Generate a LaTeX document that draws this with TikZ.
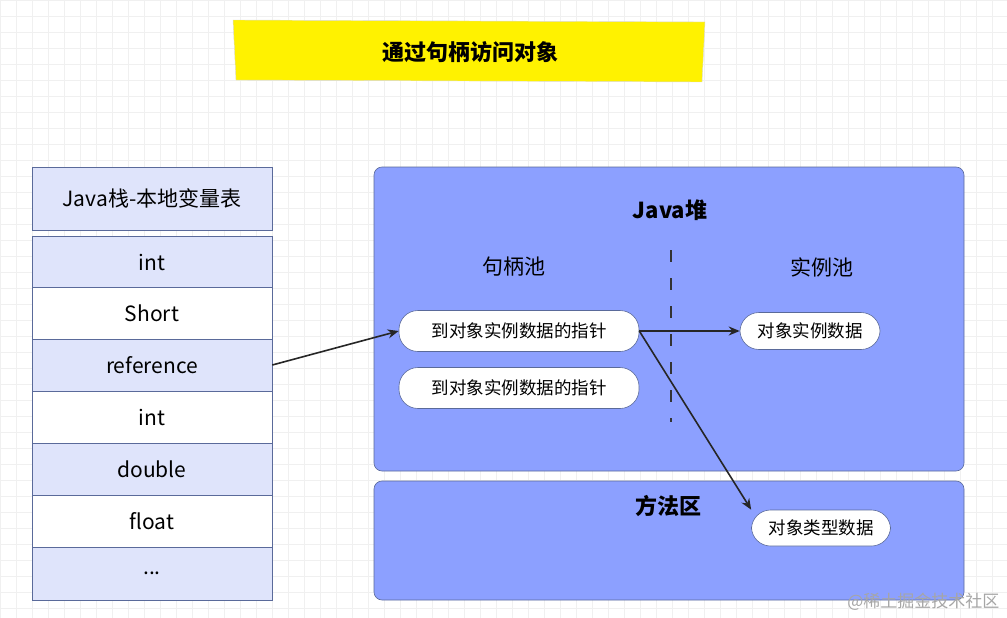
\documentclass[tikz,border=0pt]{standalone}
\usepackage{fontspec}
\setmainfont{Noto Sans CJK SC}
\usetikzlibrary{arrows.meta}
\definecolor{lav}{HTML}{DFE4FB}
\definecolor{heap}{HTML}{8CA0FF}
\definecolor{bord}{HTML}{5A6A9A}
\tikzset{
 cell/.style={draw=bord,line width=0.6pt,minimum width=240pt,minimum height=52pt,font=\fontsize{21}{21}\selectfont,inner sep=0},
 area/.style={draw=bord,fill=heap,rounded corners=8pt,line width=0.6pt},
 pill/.style={draw=bord,fill=white,rounded corners=19pt,line width=0.6pt,font=\fontsize{17.5}{17.5}\selectfont,inner sep=0},
 lbl/.style={font=\fontsize{21}{21}\selectfont},
 arr/.style={-{Stealth[length=11pt,width=9pt]},line width=1.6pt,black!85}
}
\begin{document}
\begin{tikzpicture}[x=1pt,y=-1pt]
\useasboundingbox (0,0) rectangle (1007,618);
\fill[white] (0,0) rectangle (1007,618);
\draw[black!6,step=16pt] (0,0) grid (1007,618);
% title
\fill[yellow,draw=black!15] (233,20) -- (705,22) -- (702,82) -- (236,80) -- cycle;
\node[font=\bfseries\fontsize{22}{22}\selectfont] (title) at (470,52) {通过句柄访问对象};
% stack
\node[cell,fill=lav,minimum height=63pt] (hdr) at (152,198.5) {Java栈-本地变量表};
\node[cell,fill=lav] (r1) at (152,262) {int};
\node[cell,fill=white] (r2) at (152,313) {Short};
\node[cell,fill=lav] (r3) at (152,365) {reference};
\node[cell,fill=white] (r4) at (152,417) {int};
\node[cell,fill=lav] (r5) at (152,469) {double};
\node[cell,fill=white] (r6) at (152,521) {float};
\node[cell,fill=lav,minimum height=53pt] (r7) at (152,573.5) {...};
% heap
\draw[area] (374,167) rectangle (964,471);
\node[font=\bfseries\fontsize{22}{22}\selectfont] (heapt) at (670,210) {Java堆};
\node[lbl] (hp) at (514,267) {句柄池};
\node[lbl] (ip) at (822,267) {实例池};
\draw[line width=2.4pt,dash pattern=on 12pt off 16pt,black!80] (671,250) -- (671,422);
\node[pill,minimum width=240pt,minimum height=41pt] (p1) at (519,331) {到对象实例数据的指针};
\node[pill,minimum width=240pt,minimum height=41pt] (p2) at (519,388) {到对象实例数据的指针};
\node[pill,minimum width=140pt,minimum height=37pt] (inst) at (810,331) {对象实例数据};
% method area
\draw[area] (374,481) rectangle (964,600);
\node[font=\bfseries\fontsize{22}{22}\selectfont] (mt) at (668,506) {方法区};
\node[pill,minimum width=139pt,minimum height=36pt] (type) at (821,528) {对象类型数据};
% arrows
\draw[arr] (r3.east) -- (p1.west);
\draw[arr] (p1.east) -- (inst.west);
\draw[arr] (p1.east) -- (type.north west);
\node[text=black!35,font=\fontsize{17}{17}\selectfont,anchor=east] (wm) at (1003,602) {@稀土掘金技术社区};
\end{tikzpicture}
\end{document}
